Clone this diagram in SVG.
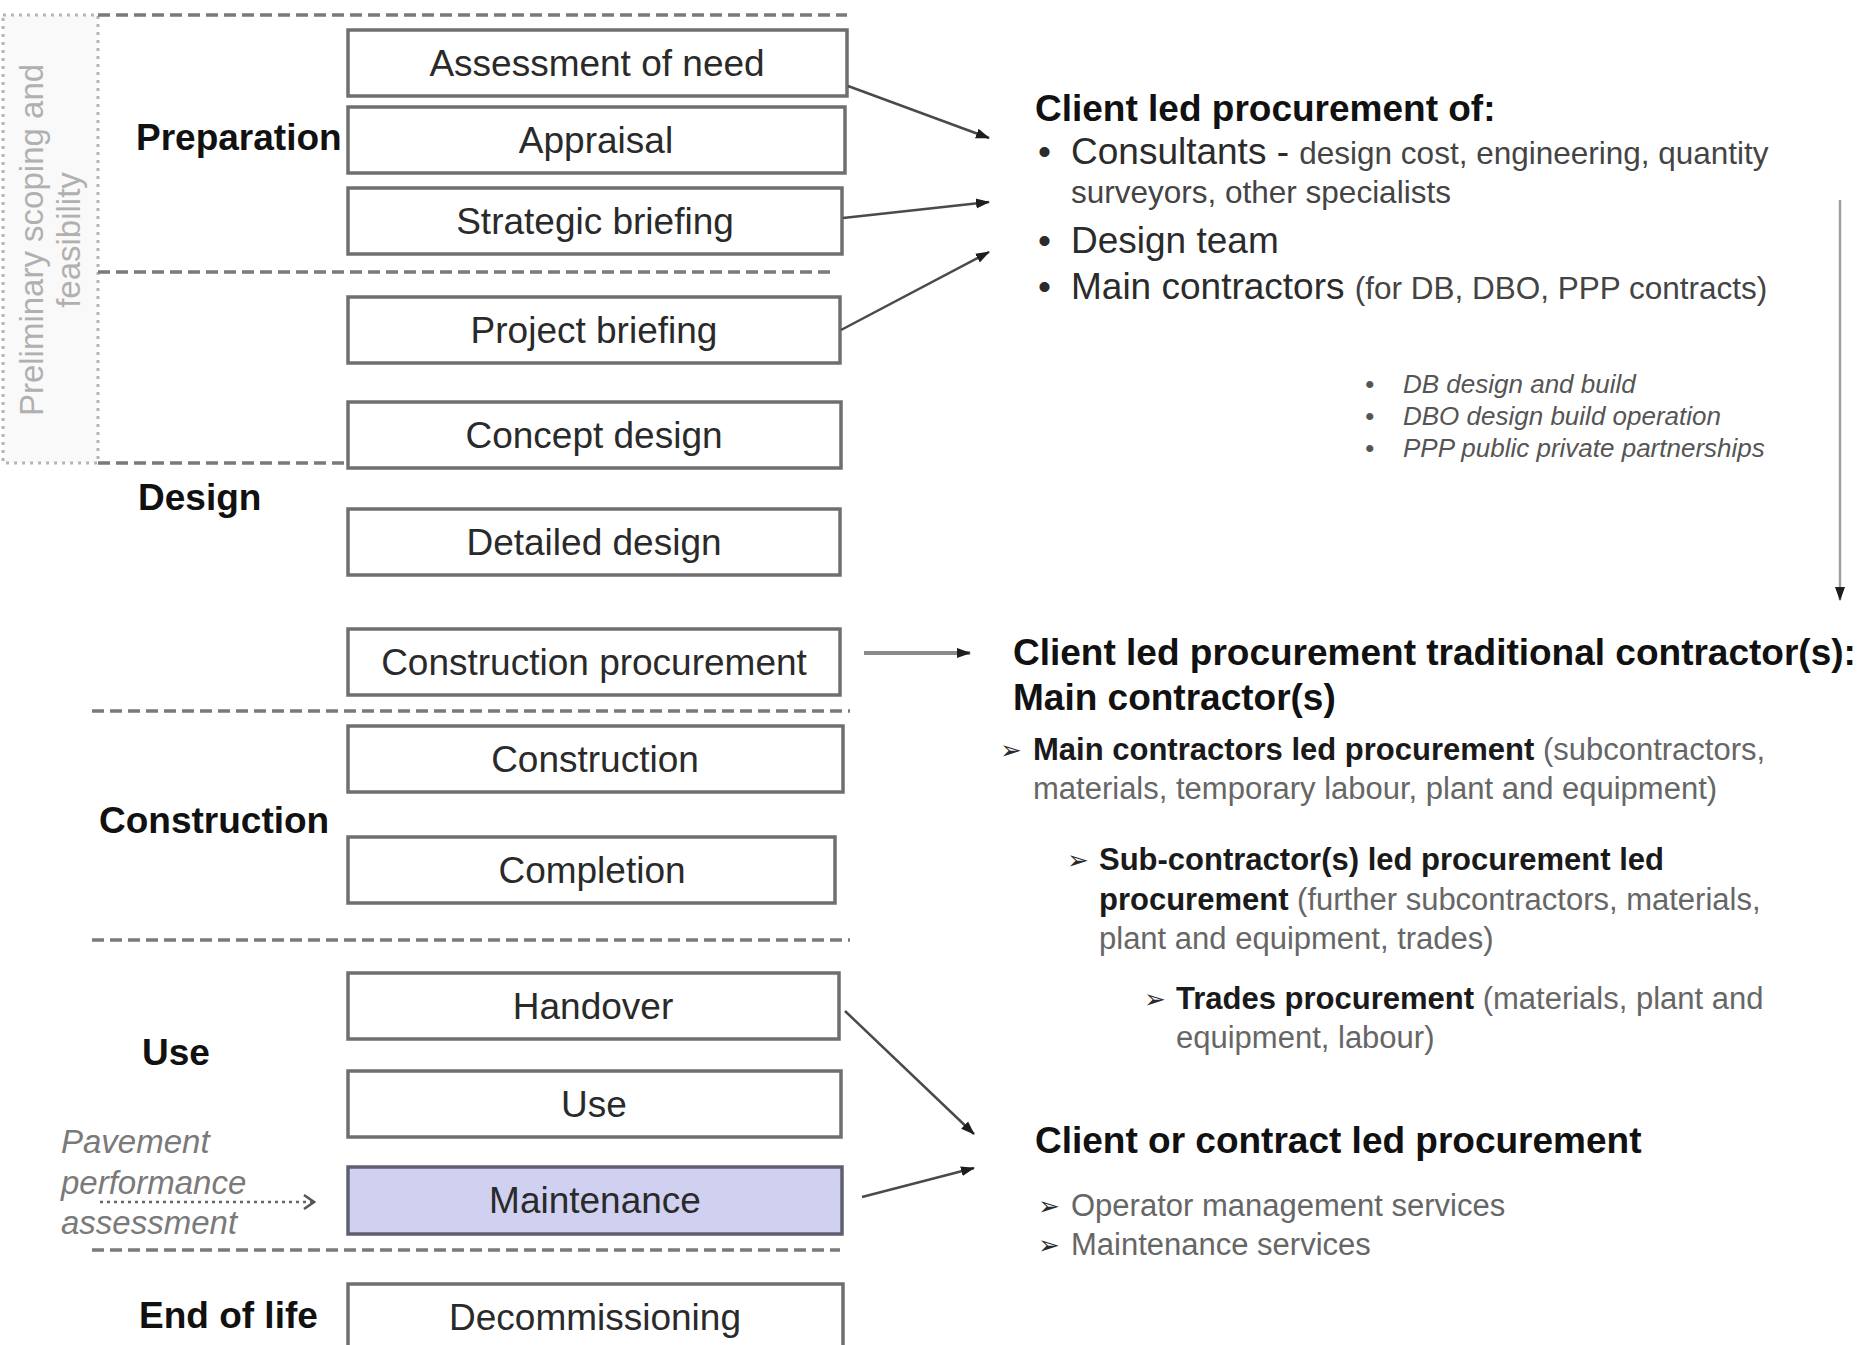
<svg xmlns="http://www.w3.org/2000/svg" width="1876" height="1345" viewBox="0 0 1876 1345">
<style>
  text { font-family: "Liberation Sans", Arial, sans-serif; }
  .box { fill: #ffffff; stroke: #6f6f6f; stroke-width: 3.5; }
  .maint { fill: #d0d1f1; stroke: #5f5f72; stroke-width: 3.5; }
  .blabel { font-size: 37px; fill: #2a2a2a; text-anchor: middle; }
  .stage { font-size: 37px; font-weight: bold; fill: #111; }
  .div { stroke: #7a7a7a; stroke-width: 3.5; stroke-dasharray: 12 6; fill: none; }
  .prelim { fill: #f9f9f9; stroke: #b5b5b5; stroke-width: 3; stroke-dasharray: 3 5; }
  .rot { font-size: 33px; fill: #b0b0b0; text-anchor: middle; }
  .head { font-size: 37px; font-weight: bold; fill: #111; }
  .big { font-size: 37px; fill: #2b2b2b; }
  .small { font-size: 31.5px; fill: #444; }
  .note { font-size: 26px; font-style: italic; fill: #555; }
  .sub { font-size: 31px; fill: #666; }
  .subb { font-size: 31px; font-weight: bold; fill: #1a1a1a; }
  .arrb { font-family: "DejaVu Sans", sans-serif; font-size: 26px; fill: #2a2a2a; }
  .pave { font-size: 33px; font-style: italic; fill: #7a7a7a; }
  .conn { stroke: #4a4a4a; stroke-width: 2.5; fill: none; }
  .connthick { stroke: #8a8a8a; stroke-width: 4; fill: none; }
  .connv { stroke: #a0a0a0; stroke-width: 2.5; fill: none; }
</style>
<defs>
  <marker id="ah" markerUnits="userSpaceOnUse" markerWidth="14" markerHeight="12" refX="13" refY="6" orient="auto">
    <path d="M0,1 L14,6 L0,11 Z" fill="#1e1e1e"/>
  </marker>
  <marker id="open" markerUnits="userSpaceOnUse" markerWidth="14" markerHeight="18" refX="12" refY="9" orient="auto">
    <path d="M2,2 L12,9 L2,16" fill="none" stroke="#555" stroke-width="2.5"/>
  </marker>
</defs>
<rect width="1876" height="1345" fill="#ffffff"/>

<!-- preliminary scoping frame -->
<g id="prelim">
  <rect class="prelim" x="3" y="15" width="95" height="448"/>
  <text class="rot" transform="translate(43,240) rotate(-90)">Preliminary scoping and</text>
  <text class="rot" transform="translate(80,240) rotate(-90)">feasibility</text>
</g>

<!-- stage dividers -->
<g id="dividers">
  <line class="div" x1="98" y1="15" x2="847" y2="15"/>
  <line class="div" x1="98" y1="272" x2="832" y2="272"/>
  <line class="div" x1="98" y1="463" x2="346" y2="463"/>
  <line class="div" x1="92" y1="711" x2="850" y2="711"/>
  <line class="div" x1="92" y1="940" x2="850" y2="940"/>
  <line class="div" x1="92" y1="1250" x2="840" y2="1250"/>
</g>

<!-- stage labels -->
<g id="stages">
  <text class="stage" x="136" y="150">Preparation</text>
  <text class="stage" x="138" y="510">Design</text>
  <text class="stage" x="99" y="833">Construction</text>
  <text class="stage" x="142" y="1065">Use</text>
  <text class="stage" x="139" y="1328">End of life</text>
</g>

<!-- activity boxes -->
<g id="n-assessment"><rect class="box" x="348" y="30" width="499" height="66"/><text class="blabel" x="597" y="76">Assessment of need</text></g>
<g id="n-appraisal"><rect class="box" x="348" y="107" width="497" height="66"/><text class="blabel" x="596" y="153">Appraisal</text></g>
<g id="n-strategic"><rect class="box" x="348" y="188" width="494" height="66"/><text class="blabel" x="595" y="234">Strategic briefing</text></g>
<g id="n-project"><rect class="box" x="348" y="297" width="492" height="66"/><text class="blabel" x="594" y="343">Project briefing</text></g>
<g id="n-concept"><rect class="box" x="348" y="402" width="493" height="66"/><text class="blabel" x="594" y="448">Concept design</text></g>
<g id="n-detailed"><rect class="box" x="348" y="509" width="492" height="66"/><text class="blabel" x="594" y="555">Detailed design</text></g>
<g id="n-constrproc"><rect class="box" x="348" y="629" width="492" height="66"/><text class="blabel" x="594" y="675">Construction procurement</text></g>
<g id="n-construction"><rect class="box" x="348" y="726" width="495" height="66"/><text class="blabel" x="595" y="772">Construction</text></g>
<g id="n-completion"><rect class="box" x="348" y="837" width="487" height="66"/><text class="blabel" x="592" y="883">Completion</text></g>
<g id="n-handover"><rect class="box" x="348" y="973" width="491" height="66"/><text class="blabel" x="593" y="1019">Handover</text></g>
<g id="n-use"><rect class="box" x="348" y="1071" width="493" height="66"/><text class="blabel" x="594" y="1117">Use</text></g>
<g id="n-maintenance"><rect class="maint" x="348" y="1167" width="494" height="67"/><text class="blabel" x="595" y="1213">Maintenance</text></g>
<g id="n-decommissioning"><rect class="box" x="348" y="1284" width="495" height="70"/><text class="blabel" x="595" y="1330">Decommissioning</text></g>

<!-- pavement note -->
<g id="n-pavement">
  <text class="pave" x="61" y="1153">Pavement</text>
  <text class="pave" x="61" y="1194">performance</text>
  <text class="pave" x="61" y="1234">assessment</text>
</g>

<!-- right-hand text blocks -->
<g id="n-client-led">
  <text class="head" x="1035" y="121">Client led procurement of:</text>
  <text class="big" x="1038" y="164">•</text>
  <text class="big" x="1071" y="164">Consultants - <tspan class="small">design cost, engineering, quantity</tspan></text>
  <text class="small" x="1071" y="203">surveyors, other specialists</text>
  <text class="big" x="1038" y="253">•</text>
  <text class="big" x="1071" y="253">Design team</text>
  <text class="big" x="1038" y="299">•</text>
  <text class="big" x="1071" y="299">Main contractors <tspan class="small">(for DB, DBO, PPP contracts)</tspan></text>
</g>

<g id="n-contract-notes">
  <text class="note" x="1365" y="393">•</text><text class="note" x="1403" y="393">DB design and build</text>
  <text class="note" x="1365" y="425">•</text><text class="note" x="1403" y="425">DBO design build operation</text>
  <text class="note" x="1365" y="457">•</text><text class="note" x="1403" y="457">PPP public private partnerships</text>
</g>

<g id="n-traditional">
  <text class="head" x="1013" y="665">Client led procurement traditional contractor(s):</text>
  <text class="head" x="1013" y="710">Main contractor(s)</text>
  <text class="arrb" x="1000" y="759">➢</text>
  <text class="subb" x="1033" y="760">Main contractors led procurement <tspan class="sub" font-weight="normal">(subcontractors,</tspan></text>
  <text class="sub" x="1033" y="799">materials, temporary labour, plant and equipment)</text>
  <text class="arrb" x="1067" y="869">➢</text>
  <text class="subb" x="1099" y="870">Sub-contractor(s) led procurement led</text>
  <text class="subb" x="1099" y="910">procurement <tspan class="sub" font-weight="normal">(further subcontractors, materials,</tspan></text>
  <text class="sub" x="1099" y="949">plant and equipment, trades)</text>
  <text class="arrb" x="1144" y="1008">➢</text>
  <text class="subb" x="1176" y="1009">Trades procurement <tspan class="sub" font-weight="normal"> (materials, plant and</tspan></text>
  <text class="sub" x="1176" y="1048">equipment, labour)</text>
</g>

<g id="n-client-contract">
  <text class="head" x="1035" y="1153">Client or contract led procurement</text>
  <text class="arrb" x="1038" y="1215">➢</text>
  <text class="sub" x="1071" y="1216">Operator management services</text>
  <text class="arrb" x="1038" y="1254">➢</text>
  <text class="sub" x="1071" y="1255">Maintenance services</text>
</g>

<!-- connectors -->
<g id="connectors">
  <line class="conn" x1="848" y1="86" x2="989" y2="138" marker-end="url(#ah)"/>
  <line class="conn" x1="843" y1="218" x2="989" y2="202" marker-end="url(#ah)"/>
  <line class="conn" x1="841" y1="330" x2="989" y2="252" marker-end="url(#ah)"/>
  <line class="connthick" x1="864" y1="653" x2="970" y2="653" marker-end="url(#ah)"/>
  <line class="conn" x1="845" y1="1011" x2="974" y2="1134" marker-end="url(#ah)"/>
  <line class="conn" x1="862" y1="1197" x2="974" y2="1168" marker-end="url(#ah)"/>
  <line class="connv" x1="1840" y1="200" x2="1840" y2="600" marker-end="url(#ah)"/>
  <line x1="100" y1="1202" x2="314" y2="1202" stroke="#666" stroke-width="2.5" stroke-dasharray="3 4" marker-end="url(#open)"/>
</g>
</svg>
